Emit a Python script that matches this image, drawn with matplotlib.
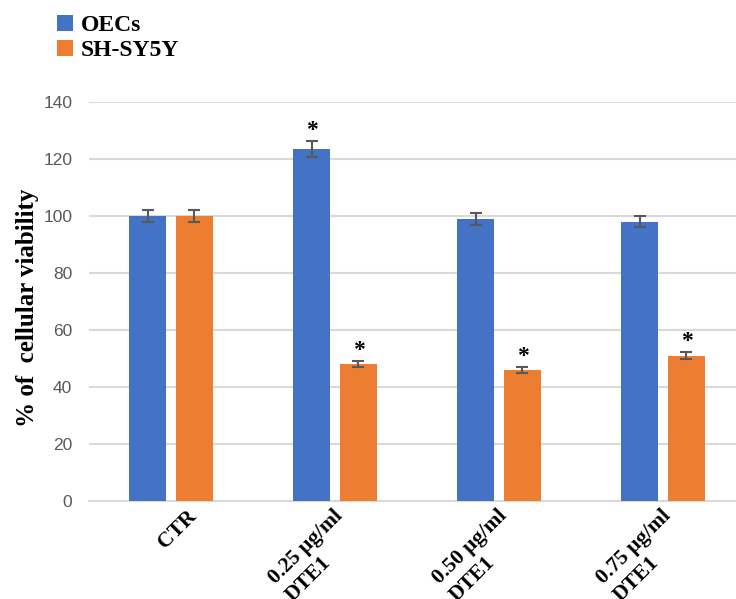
import matplotlib
matplotlib.use("Agg")
import matplotlib.pyplot as plt
from matplotlib.patches import Patch
import numpy as np

# Data
categories = ["CTR", "0.25 μg/ml\nDTE1", "0.50 μg/ml\nDTE1", "0.75 μg/ml\nDTE1"]
oecs = [100, 123.5, 99, 98]
oecs_err = [2.0, 2.7, 2.0, 2.0]
shsy5y = [100, 48, 46, 51]
shsy5y_err = [2.0, 1.0, 1.0, 1.2]
oecs_sig = [False, True, False, False]
shsy5y_sig = [False, True, True, True]
yticks = [0, 20, 40, 60, 80, 100, 120, 140]

BLUE = "#4472C4"
ORANGE = "#ED7D31"
GRID = "#D9D9D9"
TICK = "#595959"
SERIF = "Liberation Serif"

fig = plt.figure(figsize=(7.36, 5.99), dpi=100)
ax = fig.add_axes([89 / 736, (599 - 501) / 599, 1 - 89 / 736, (501 - 102) / 599])

x = np.arange(len(categories))
w = 0.222
off = 0.143
err_kw = dict(ecolor="#595959", elinewidth=1.5, capsize=4, capthick=1.5)
ax.bar(x - off, oecs, w, yerr=oecs_err, color=BLUE, error_kw=err_kw, zorder=3, label="OECs")
ax.bar(x + off, shsy5y, w, yerr=shsy5y_err, color=ORANGE, error_kw=err_kw, zorder=3, label="SH-SY5Y")

# significance marks
for xs, vals, errs, sig in [(x - off, oecs, oecs_err, oecs_sig), (x + off, shsy5y, shsy5y_err, shsy5y_sig)]:
    for xi, v, e, s in zip(xs, vals, errs, sig):
        if s:
            ax.annotate("*", xy=(xi, v + e), xytext=(0, 0), textcoords="offset points",
                        ha="center", va="bottom", fontsize=17, fontweight="bold",
                        family=SERIF, color="black", zorder=4)

ax.set_xlim(-0.5, 3.445)
ax.set_ylim(0, 140)
ax.set_yticks(yticks)
ax.set_yticklabels([str(t) for t in yticks], fontsize=12.5, color=TICK, family="Liberation Sans")
ax.tick_params(axis="y", length=0, pad=12)
ax.set_xticks([])
ax.yaxis.grid(True, color=GRID, linewidth=1.5, zorder=0)
for sp in ["top", "right", "left"]:
    ax.spines[sp].set_visible(False)
ax.spines["bottom"].set_color(GRID)
ax.spines["bottom"].set_linewidth(1.5)
ax.spines["bottom"].set_zorder(1)

# rotated category labels (offsets in pixels from tick position)
label_offsets = [(15, -5), (-2, -5), (-2, -5), (-2, -5)]
for xi, lab, (dx, dy) in zip(x, categories, label_offsets):
    ax.annotate(lab, xy=(xi, 0), xycoords=("data", "data"),
                xytext=(dx * 0.72, dy * 0.72), textcoords="offset points",
                rotation=45, rotation_mode="anchor", ha="right", va="top",
                multialignment="left", linespacing=1.3,
                fontsize=15.5, fontweight="bold", family=SERIF, annotation_clip=False)

fig.text(28 / 736, (599 - 308) / 599, "% of  cellular viability", rotation=90,
         ha="center", va="center", fontsize=18, fontweight="bold", family=SERIF)

handles = [Patch(facecolor=BLUE), Patch(facecolor=ORANGE)]
fig.legend(handles, ["OECs", "SH-SY5Y"], loc="upper left",
           bbox_to_anchor=(52 / 736, 1 - 10 / 599), frameon=False,
           prop={"family": SERIF, "weight": "bold", "size": 17},
           handlelength=0.68, handleheight=0.68, handletextpad=0.35,
           labelspacing=0.15, borderpad=0.2, borderaxespad=0)

fig.savefig("out.png", dpi=100)
